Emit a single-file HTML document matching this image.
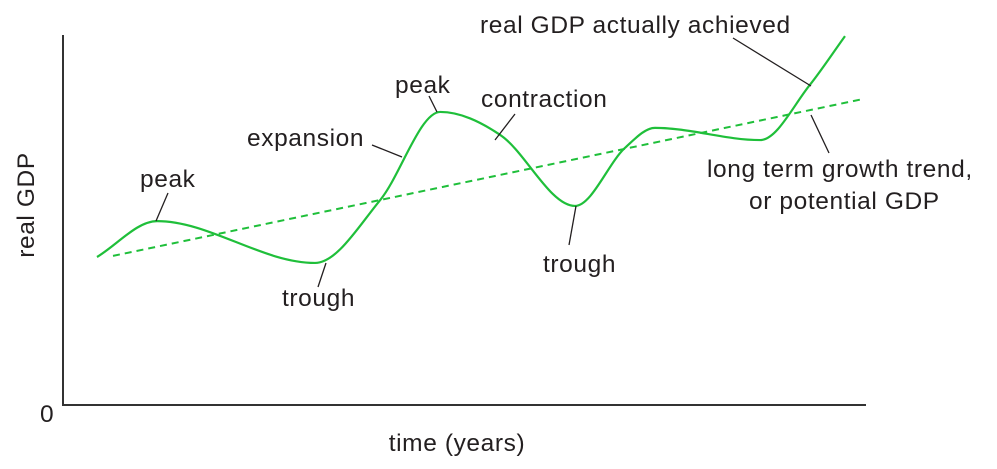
<!DOCTYPE html>
<html><head><meta charset="utf-8"><style>
html,body{margin:0;padding:0;background:#fff}
svg{display:block}
text{font-family:"Liberation Sans",sans-serif;font-size:24.5px;letter-spacing:0.6px;fill:#231f20}
</style></head><body>
<svg width="997" height="469">
<g id="axes">
<line x1="63" y1="35" x2="63" y2="405" stroke="#333" stroke-width="2"/>
<line x1="62" y1="405" x2="866" y2="405" stroke="#333" stroke-width="2"/>
<text x="40" y="422">0</text>
<text x="457" y="451" text-anchor="middle">time (years)</text>
<text transform="translate(34,205) rotate(-90)" text-anchor="middle">real GDP</text>
</g>
<g id="marks"></g>
<g id="annotations" stroke="#231f20" stroke-width="1.3">
<line x1="168" y1="193" x2="156" y2="221"/>
<text x="140" y="187" stroke="none">peak</text>
<line x1="326" y1="263" x2="318" y2="287"/>
<text x="282" y="306" stroke="none">trough</text>
<line x1="372" y1="145" x2="402" y2="157"/>
<text x="247" y="146" stroke="none">expansion</text>
<line x1="429" y1="96" x2="437" y2="112"/>
<text x="395" y="93" stroke="none">peak</text>
<line x1="515" y1="114" x2="495" y2="140"/>
<text x="481" y="107" stroke="none">contraction</text>
<line x1="576" y1="206" x2="569" y2="245"/>
<text x="543" y="272" stroke="none">trough</text>
<line x1="733" y1="38" x2="811" y2="86"/>
<text x="480" y="33" stroke="none">real GDP actually achieved</text>
<line x1="811" y1="115" x2="829" y2="153"/>
<text x="707" y="177" stroke="none">long term growth trend,</text>
<text x="749" y="209" stroke="none">or potential GDP</text>
</g>
</svg>
<script>
const actualX=[4,11.5,31.25,39.4,46.9,54.4,63.75,70,73.75,86.9,93.1,97.5];
const actualY=[40,49.7,38.4,55.4,79.2,73,53.8,69.5,74.9,71.6,86.5,99.7];
const trendX=[6,99.75];
const trendY=[40.3,82.7];
const xs=v=>65+v*8;
const ys=v=>405-v*3.7;
const NS="http://www.w3.org/2000/svg";
const g=document.getElementById('marks');
function smooth(xa,ya){
  const p=xa.map((x,i)=>[xs(x),ys(ya[i])]);
  const n=p.length;
  const m=p.map((q,i)=>{
    if(i===0) return (p[1][1]-p[0][1])/(p[1][0]-p[0][0]);
    if(i===n-1) return (p[n-1][1]-p[n-2][1])/(p[n-1][0]-p[n-2][0]);
    const s1=(q[1]-p[i-1][1])/(q[0]-p[i-1][0]);
    const s2=(p[i+1][1]-q[1])/(p[i+1][0]-q[0]);
    if(s1*s2<=0) return 0;
    return (s1+s2)/2;
  });
  let d="M"+p[0][0]+","+p[0][1];
  for(let i=0;i<n-1;i++){
    const h=(p[i+1][0]-p[i][0])/3;
    d+=" C"+(p[i][0]+h)+","+(p[i][1]+m[i]*h)+" "+(p[i+1][0]-h)+","+(p[i+1][1]-m[i+1]*h)+" "+p[i+1][0]+","+p[i+1][1];
  }
  return d;
}
const t=document.createElementNS(NS,'line');


t.setAttribute('x1',xs(trendX[0]));t.setAttribute('y1',ys(trendY[0]));
t.setAttribute('x2',xs(trendX[1]));t.setAttribute('y2',ys(trendY[1]));
t.setAttribute('stroke','#1fbf3a');t.setAttribute('stroke-width','2');t.setAttribute('stroke-dasharray','7,5');
g.appendChild(t);
const a=document.createElementNS(NS,'path');


a.setAttribute('d',smooth(actualX,actualY));
a.setAttribute('fill','none');a.setAttribute('stroke','#1fbf3a');a.setAttribute('stroke-width','2.2');
g.appendChild(a);
</script>
</body></html>
